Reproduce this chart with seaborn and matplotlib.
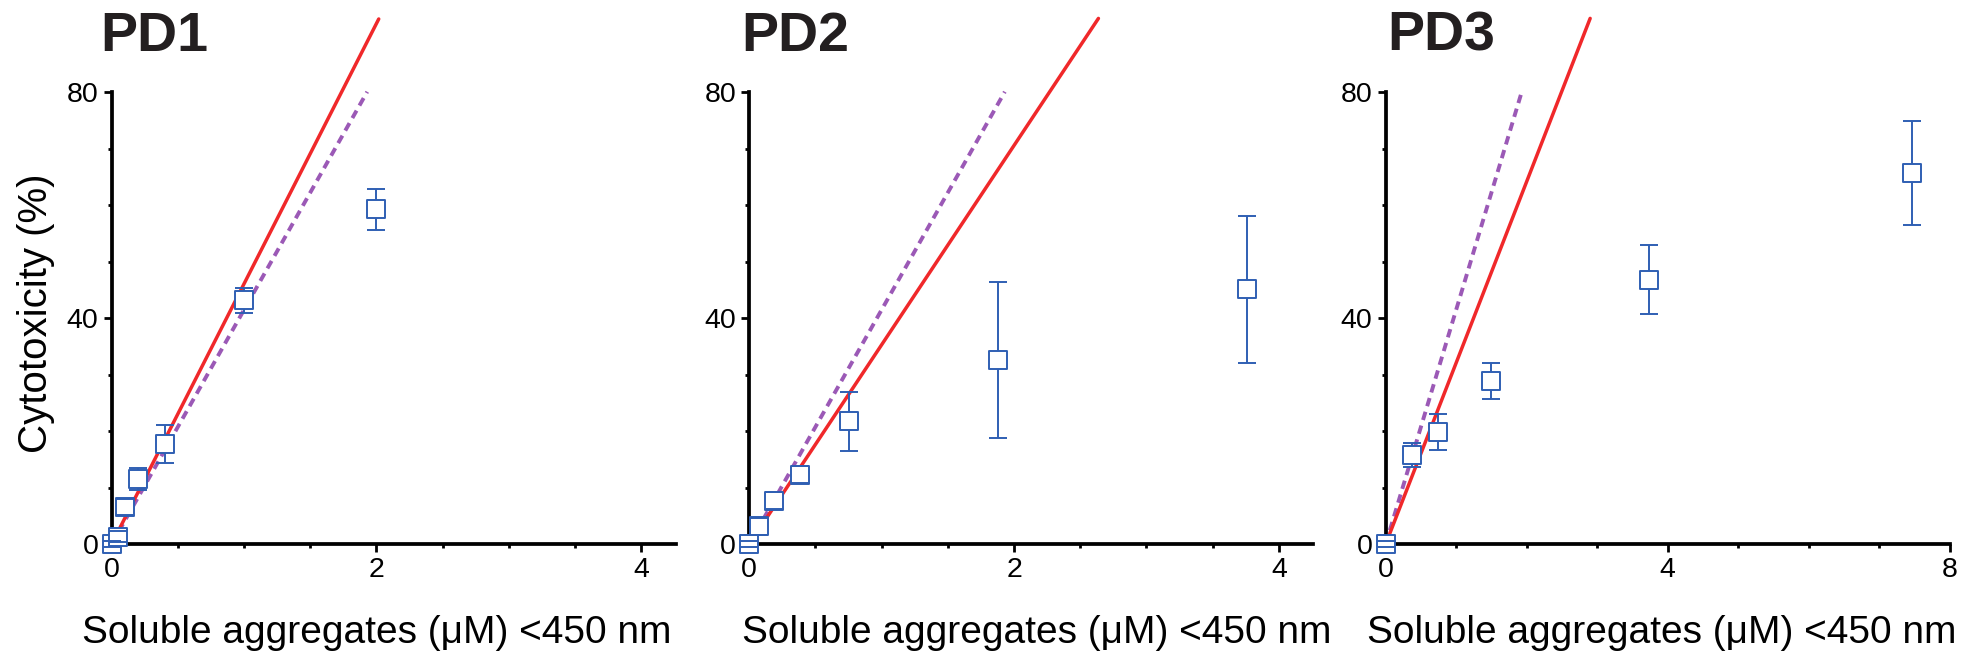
import numpy as np
import pandas as pd
import matplotlib
matplotlib.use("Agg")
import matplotlib.pyplot as plt
import seaborn as sns

# ---------------- data ----------------
panels = ["PD1", "PD2", "PD3"]

pd1_x = [0.0, 0.045, 0.10, 0.20, 0.40, 1.00, 2.00]
pd1_y = [0.0, 1.3, 6.6, 11.5, 17.7, 43.2, 59.3]
pd1_err = [0.6, 1.0, 1.4, 1.9, 3.3, 2.2, 3.6]

pd2_x = [0.0, 0.072, 0.19, 0.38, 0.75, 1.88, 3.76]
pd2_y = [0.0, 3.1, 7.7, 12.3, 21.7, 32.6, 45.1]
pd2_err = [0.6, 1.5, 1.5, 1.5, 5.2, 13.8, 13.0]

pd3_x = [0.0, 0.38, 0.745, 1.49, 3.73, 7.46]
pd3_y = [0.0, 15.8, 19.8, 28.8, 46.8, 65.7]
pd3_err = [0.6, 2.1, 3.2, 3.2, 6.1, 9.2]

# linear fits (red, solid) and common reference line (purple, dashed)
red_slope = [46.1, 35.3, 32.1]
red_x_end = [2.017, 2.637, 2.90]
purple_slope = 41.5
purple_x_end = 1.93

x_max = [4.26, 4.26, 8.0]
x_major = [[0, 2, 4], [0, 2, 4], [0, 4, 8]]
x_minor_step = [0.5, 0.5, 1.0]
y_major = [0, 40, 80]

xlabel_text = "Soluble aggregates (\u03bcM) <450 nm"
ylabel_text = "Cytotoxicity (%)"

# ---------------- style ----------------
sns.set_theme(style="ticks")
plt.rcParams["font.family"] = ["Liberation Sans", "DejaVu Sans"]

BLUE = "#2f5fb3"
RED = "#f0282a"
PURPLE = "#9b59b6"

W, H = 1982, 670
fig = plt.figure(figsize=(W / 100, H / 100), dpi=100)

ax_left_px = [111.7, 749.3, 1385.7]
ax_w_px = 564.0
ax_top_px, ax_bot_px = 92.3, 544.0

datasets = [(pd1_x, pd1_y, pd1_err), (pd2_x, pd2_y, pd2_err), (pd3_x, pd3_y, pd3_err)]
title_dx = [-0.02, -0.014, 0.002]
xlabel_cx = [0.47, 0.51, 0.49]

for i, name in enumerate(panels):
    left = ax_left_px[i] / W
    bottom = (H - ax_bot_px) / H
    ax = fig.add_axes([left, bottom, ax_w_px / W, (ax_bot_px - ax_top_px) / H])
    xs, ys, es = datasets[i]
    df = pd.DataFrame({"x": xs, "y": ys, "err": es})

    # fit lines
    xr = np.array([0.0, red_x_end[i]])
    sns.lineplot(x=xr, y=red_slope[i] * xr, ax=ax, color=RED, lw=2.5,
                 zorder=4, clip_on=False, legend=False)
    xp = np.array([0.0, purple_x_end])
    lp = sns.lineplot(x=xp, y=purple_slope * xp, ax=ax, color=PURPLE, lw=2.8,
                      zorder=3, clip_on=False, legend=False)
    lp.lines[-1].set_dashes((2.2, 1.5))

    # error bars
    eb = ax.errorbar(df["x"], df["y"], yerr=df["err"], fmt="none", ecolor=BLUE,
                     elinewidth=1.4, capsize=6.5, capthick=1.4, zorder=5, clip_on=False)
    for c in eb[1]:
        c.set_zorder(7)
        c.set_clip_on(False)
    for c in eb[2]:
        c.set_clip_on(False)

    # markers
    sns.scatterplot(data=df, x="x", y="y", ax=ax, marker="s", s=170,
                    facecolor="white", edgecolor=BLUE, linewidth=1.4,
                    zorder=6, clip_on=False, legend=False)

    ax.set_xlim(0, x_max[i])
    ax.set_ylim(0, 80)
    ax.set_xticks(x_major[i])
    ax.set_xticks(np.arange(0, x_max[i] + 1e-6, x_minor_step[i]), minor=True)
    ax.set_yticks(y_major)
    ax.set_yticks(np.arange(0, 81, 10), minor=True)
    ax.set_xticklabels([str(v) for v in x_major[i]])
    ax.set_yticklabels([str(v) for v in y_major])

    for s in ["top", "right"]:
        ax.spines[s].set_visible(False)
    for s in ["left", "bottom"]:
        ax.spines[s].set_linewidth(2.7)
        ax.spines[s].set_color("black")
    ax.tick_params(which="major", direction="out", length=5.5, width=2.0,
                   labelsize=20.5, pad=4, colors="black")
    ax.tick_params(which="minor", direction="out", length=3.2, width=2.0, colors="black")

    ax.set_xlabel(xlabel_text, fontsize=28, color="black")
    ax.xaxis.set_label_coords(xlabel_cx[i], -0.158)
    if i == 0:
        ax.set_ylabel(ylabel_text, fontsize=29, color="black")
        ax.yaxis.set_label_coords(-0.10, 0.51)
    else:
        ax.set_ylabel("")

    ax.text(title_dx[i], 1.092, name, transform=ax.transAxes, fontsize=40,
            fontweight="bold", color="#231f20", ha="left", va="baseline")

fig.savefig("out.png", dpi=100)
